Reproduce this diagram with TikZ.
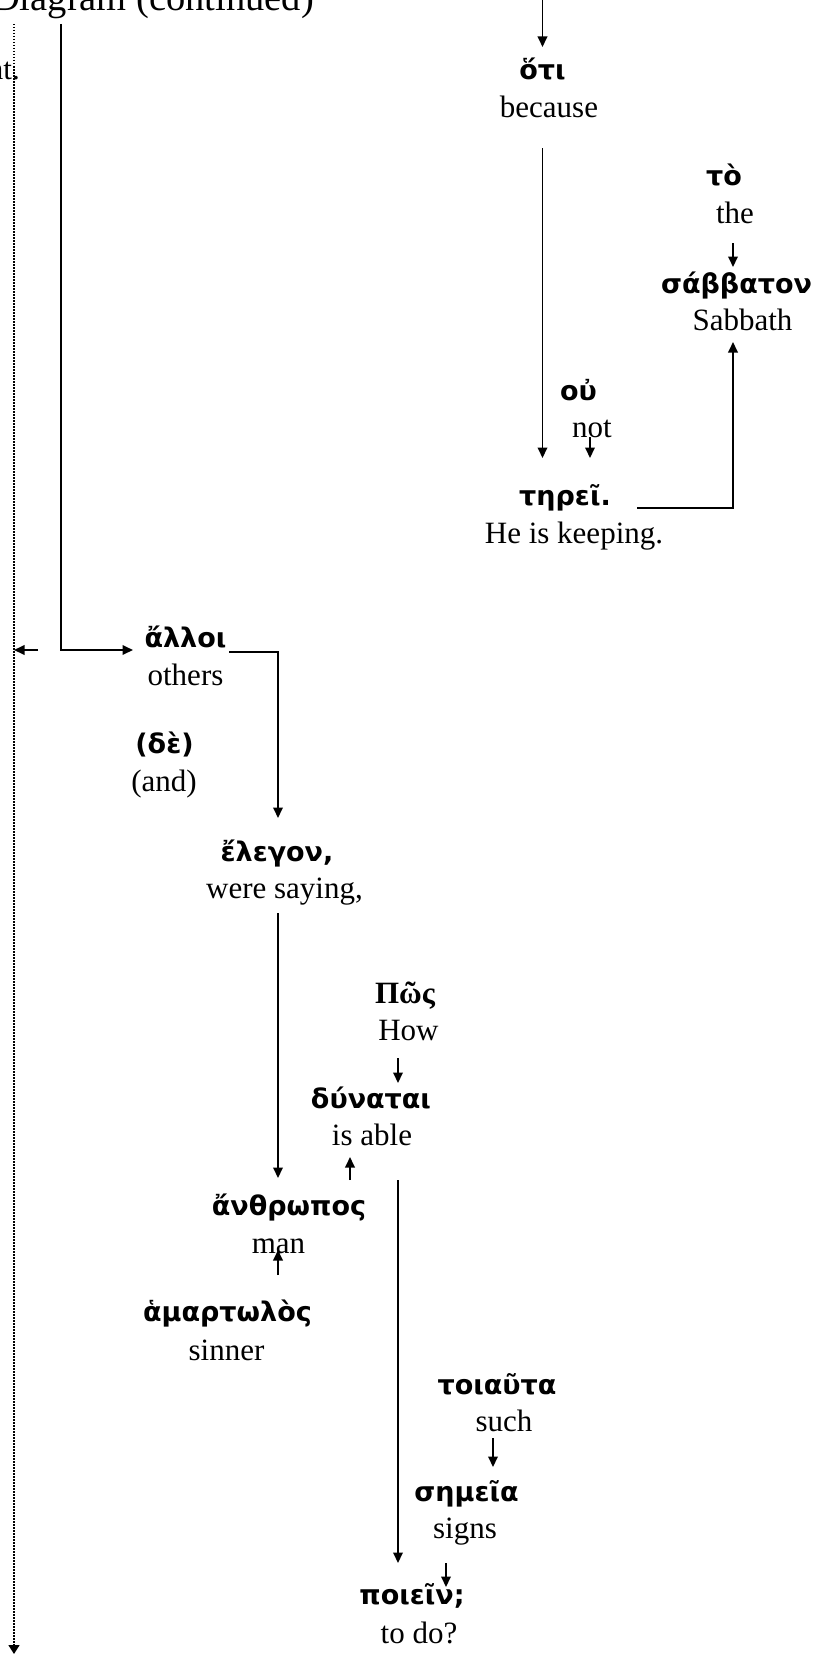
\documentclass[tikz,border=0pt]{standalone}
\usepackage{fontspec}
\setmainfont{Liberation Serif}
\newfontfamily\grk{DejaVu Sans}
\usetikzlibrary{arrows.meta,calc}

\tikzset{
  greek/.style={anchor=base, inner sep=0pt, font=\grk\bfseries\fontsize{27}{32}\selectfont},
  greekserif/.style={anchor=base, inner sep=0pt, font=\bfseries\fontsize{31}{36}\selectfont},
  gloss/.style={anchor=base, inner sep=0pt, font=\fontsize{31}{36}\selectfont},
  arr/.style={line width=1.9pt, -{Triangle[length=10.5pt,width=9.5pt]}},
  dotarr/.style={line width=1.5pt, dash pattern=on 1.5pt off 1.5pt, -{Triangle[length=9pt,width=11pt]}}
}

\begin{document}
\begin{tikzpicture}[x=1pt,y=-1pt]
\useasboundingbox (0,0) rectangle (812,1654);

% headings carried over from the previous page
\node[anchor=base west, inner sep=0pt, font=\fontsize{38.5}{44}\selectfont] (title) at (-8,11) {Diagram (continued)};
\node[anchor=base east, inner sep=0pt, font=\fontsize{31}{36}\selectfont] (prev) at (20,80) {nt.};

% words and glosses
\node[greek] (g-oti) at (542.5,80) {ὅτι};
\node[gloss] (e-oti) at (549,117) {because};
\node[greek] (g-to) at (724,185) {τὸ};
\node[gloss] (e-to) at (735,223) {the};
\node[greek] (g-sab) at (736.5,293) {σάββατον};
\node[gloss] (e-sab) at (742.5,330) {Sabbath};
\node[greek] (g-ou) at (578.5,400) {οὐ};
\node[gloss] (e-ou) at (592,437) {not};
\node[greek] (g-threi) at (565,505) {τηρεῖ.};
\node[gloss] (e-threi) at (574,543) {He is keeping.};

\node[greek] (g-alloi) at (185.5,647) {ἄλλοι};
\node[gloss] (e-alloi) at (185.5,685) {others};
\node[greek] (g-de) at (164.5,753) {(δὲ)};
\node[gloss] (e-de) at (164,791) {(and)};
\node[greek] (g-elegon) at (277,861) {ἔλεγον,};
\node[gloss] (e-elegon) at (284.5,898) {were saying,};

\node[greekserif] (g-pos) at (405,1003) {Πῶς};
\node[gloss] (e-pos) at (408.5,1040) {How};
\node[greek] (g-dyn) at (371,1108) {δύναται};
\node[gloss] (e-dyn) at (372,1145) {is able};
\node[greek] (g-anth) at (289,1215) {ἄνθρωπος};
\node[gloss] (e-anth) at (278.5,1253) {man};
\node[greek] (g-ham) at (227.5,1321) {ἁμαρτωλὸς};
\node[gloss] (e-ham) at (226.5,1360) {sinner};

\node[greek] (g-toi) at (497,1394) {τοιαῦτα};
\node[gloss] (e-toi) at (504,1431) {such};
\node[greek] (g-sem) at (466.5,1501) {σημεῖα};
\node[gloss] (e-sem) at (465,1538) {signs};
\node[greek] (g-poi) at (412,1604) {ποιεῖν;};
\node[gloss] (e-poi) at (419,1643) {to do?};

% free ends of the lines entering from the previous page
\coordinate (in-top) at (542.5,-2);
\coordinate (in-left) at (61,24);
\coordinate (rail-top) at (14,24);
\coordinate (rail-end) at (14,1654);
\coordinate (back-start) at (38,650);

% connectors
\draw[arr] (in-top) -- ($(g-oti.base)+(0,-33)$);
\draw[arr] ($(e-oti.base)+(-6.5,31)$) -- ($(g-threi.base)+(-22.5,-47)$);
\draw[arr] ($(e-to.base)+(-2,20)$) -- ($(g-sab.base)+(-3.5,-26)$);
\draw[arr] ($(g-threi.base)+(72,3)$) -| ($(e-sab.base)+(-9.5,12)$);
\draw[arr] ($(e-ou.base)+(-2,0)$) -- ($(g-threi.base)+(25,-47)$);

\draw[dotarr] (rail-top) -- (rail-end);
\draw[arr] (in-left) |- ($(g-alloi.base)+(-52.5,3)$);
\draw[arr] (back-start) -- (rail-top |- back-start);
\draw[arr] ($(g-alloi.base)+(43.5,5)$) -| ($(g-elegon.base)+(1,-43)$);
\draw[arr] ($(e-elegon.base)+(-6.5,15)$) -- ($(g-anth.base)+(-11,-37)$);

\draw[arr] ($(g-anth.base)+(61,-35)$) -- ($(e-dyn.base)+(-22,12)$);
\draw[arr] ($(e-pos.base)+(-10.5,18)$) -- ($(g-dyn.base)+(27,-25)$);
\draw[arr] ($(e-dyn.base)+(26,35)$) -- ($(g-poi.base)+(-14,-41)$);
\draw[arr] ($(g-ham.base)+(50.5,-46)$) -- ($(e-anth.base)+(-0.5,-3)$);
\draw[arr] ($(e-toi.base)+(-11,7)$) -- ($(g-sem.base)+(26.5,-34)$);
\draw[arr] ($(e-sem.base)+(-19,25)$) -- ($(g-poi.base)+(34,-17)$);
\end{tikzpicture}
\end{document}
